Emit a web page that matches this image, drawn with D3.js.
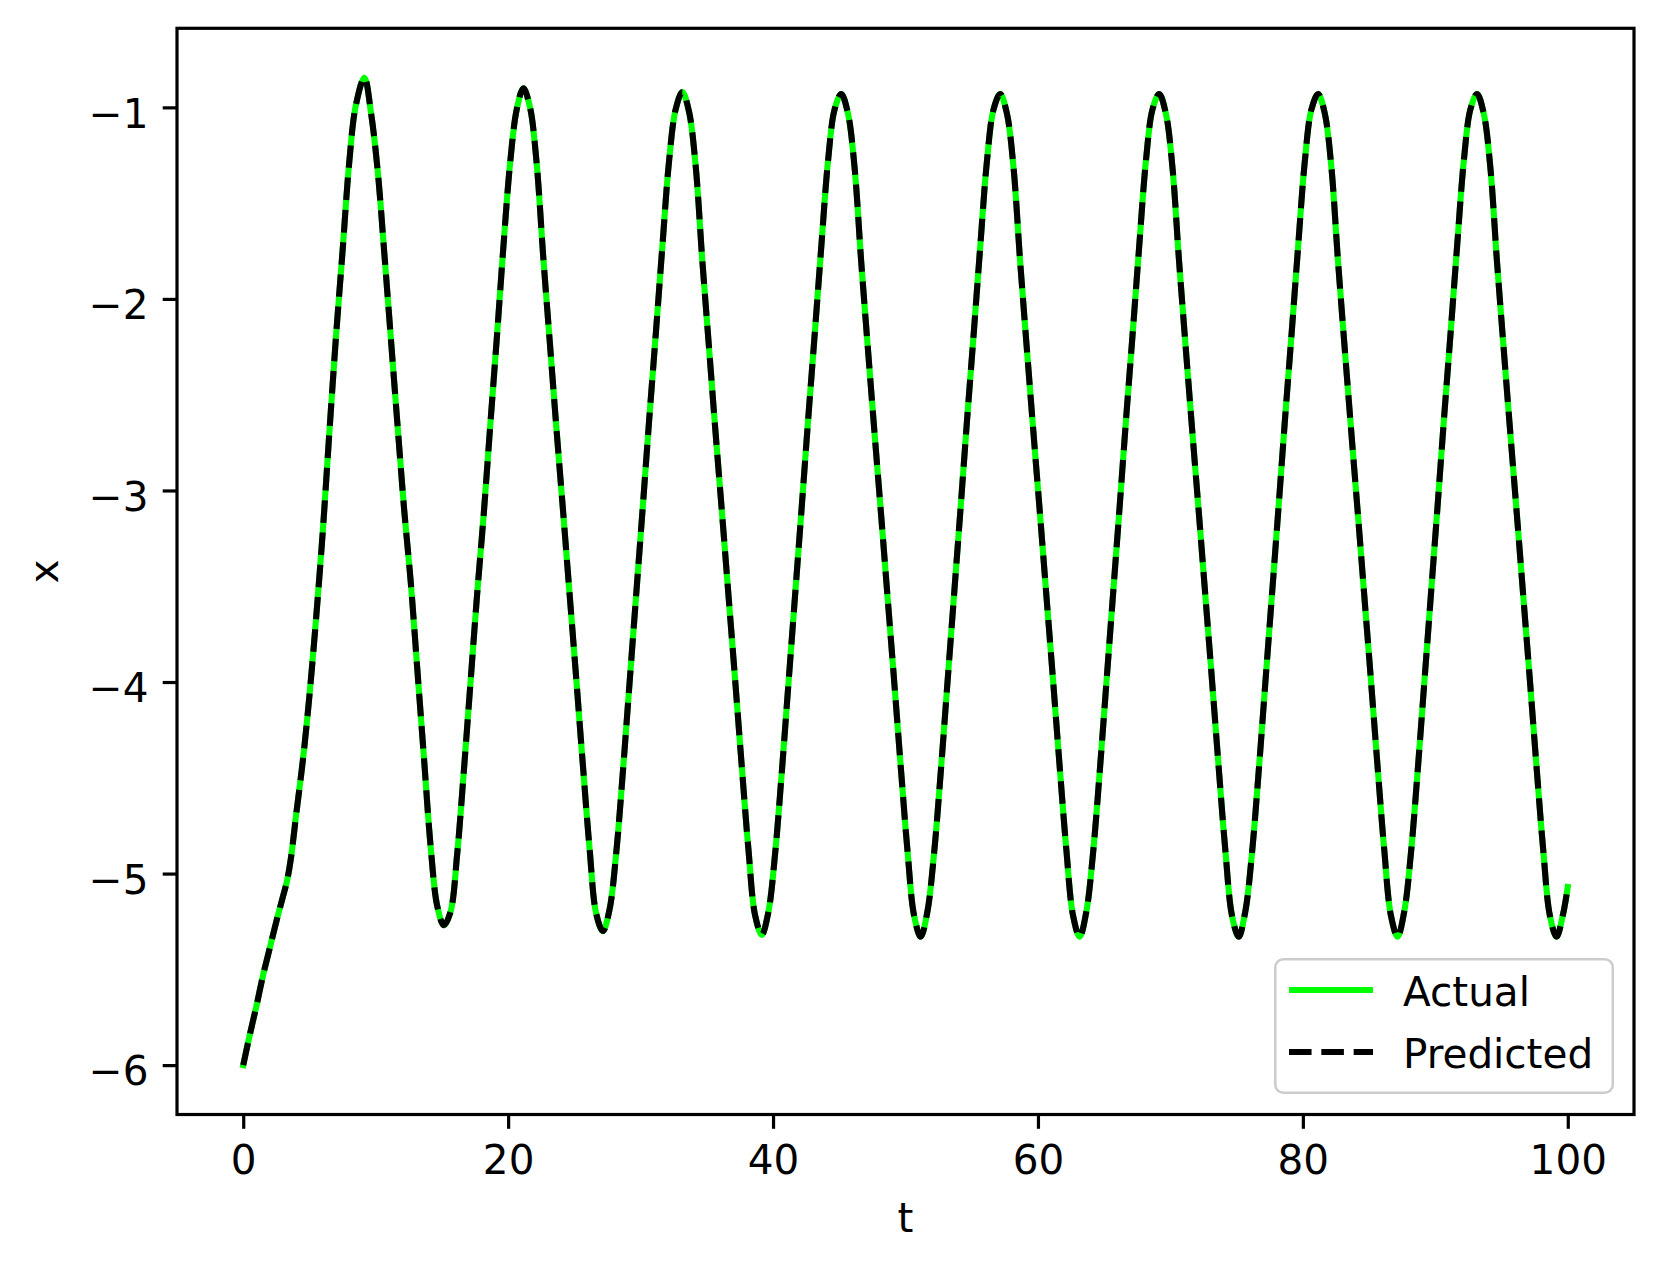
<!DOCTYPE html>
<html>
<head>
<meta charset="utf-8">
<script src="https://cdn.jsdelivr.net/npm/d3@7"></script>
<style>
  html, body { margin: 0; padding: 0; background: #fff; }
  svg { display: block; }
  text { font-family: "DejaVu Sans", sans-serif; fill: #000; }
</style>
</head>
<body>
<svg id="chart" width="1660" height="1269"></svg>
<script>
// ---- data ----
const tValues = [
  0, 0.5, 1, 1.5, 2, 2.5, 3, 3.3, 3.6, 4, 4.5, 5, 5.5, 6, 6.5, 7, 7.5, 8, 8.5, 9.15,
  9.65, 10.15, 10.65, 11.15, 11.65, 12.15, 12.65, 13.15, 13.65, 14.15, 14.65, 15.15,
  15.65, 16.15, 16.65, 17.15, 17.65, 18.15, 18.65, 19.15, 19.65, 20.15, 20.65, 21.15,
  21.65, 22.15, 22.65, 23.15, 23.65, 24.15, 24.65, 25.15, 25.65, 26.15, 26.65, 27.15,
  27.65, 28.15, 28.65, 29.15, 29.65, 30.15, 30.65, 31.15, 31.65, 32.15, 32.65, 33.15,
  33.65, 34.15, 34.65, 35.15, 35.65, 36.15, 36.65, 37.15, 37.65, 38.15, 38.65, 39.15,
  39.65, 40.15, 40.65, 41.15, 41.65, 42.15, 42.65, 43.15, 43.65, 44.15, 44.65, 45.15,
  45.65, 46.15, 46.65, 47.15, 47.65, 48.15, 48.65, 49.15, 49.65, 50.15, 50.65, 51.15,
  51.65, 52.15, 52.65, 53.15, 53.65, 54.15, 54.65, 55.15, 55.65, 56.15, 56.65, 57.15,
  57.65, 58.15, 58.65, 59.15, 59.65, 60.15, 60.65, 61.15, 61.65, 62.15, 62.65, 63.15,
  63.65, 64.15, 64.65, 65.15, 65.65, 66.15, 66.65, 67.15, 67.65, 68.15, 68.65, 69.15,
  69.65, 70.15, 70.65, 71.15, 71.65, 72.15, 72.65, 73.15, 73.65, 74.15, 74.65, 75.15,
  75.65, 76.15, 76.65, 77.15, 77.65, 78.15, 78.65, 79.15, 79.65, 80.15, 80.65, 81.15,
  81.65, 82.15, 82.65, 83.15, 83.65, 84.15, 84.65, 85.15, 85.65, 86.15, 86.65, 87.15,
  87.65, 88.15, 88.65, 89.15, 89.65, 90.15, 90.65, 91.15, 91.65, 92.15, 92.65, 93.15,
  93.65, 94.15, 94.65, 95.15, 95.65, 96.15, 96.65, 97.15, 97.65, 98.15, 98.65, 99.15,
  99.65, 100
];

const actualX = [
  -6.00, -5.84, -5.69, -5.53, -5.39, -5.25, -5.12, -5.04, -4.92, -4.69, -4.41, -4.07, -3.67, -3.22, -2.70, -2.20, -1.75, -1.29, -0.99, -0.845,
  -1.03, -1.33, -1.76, -2.21, -2.66, -3.10, -3.48, -3.94, -4.40, -4.86, -5.17, -5.27,
  -5.20, -4.90, -4.47, -4.01, -3.55, -3.13, -2.66, -2.20, -1.72, -1.29, -1.01, -0.90,
  -1.00, -1.29, -1.78, -2.23, -2.68, -3.11, -3.55, -3.99, -4.44, -4.87, -5.21, -5.30,
  -5.19, -4.90, -4.48, -4.02, -3.56, -3.10, -2.63, -2.18, -1.72, -1.28, -1.01, -0.92,
  -1.02, -1.30, -1.79, -2.24, -2.69, -3.12, -3.56, -4.00, -4.45, -4.88, -5.22, -5.32,
  -5.20, -4.90, -4.48, -4.02, -3.56, -3.10, -2.63, -2.18, -1.72, -1.28, -1.01, -0.93,
  -1.03, -1.31, -1.80, -2.25, -2.69, -3.12, -3.56, -4.00, -4.45, -4.88, -5.22, -5.33,
  -5.20, -4.90, -4.48, -4.02, -3.56, -3.10, -2.63, -2.18, -1.72, -1.28, -1.01, -0.93,
  -1.03, -1.31, -1.80, -2.25, -2.69, -3.12, -3.56, -4.00, -4.45, -4.88, -5.22, -5.33,
  -5.20, -4.90, -4.48, -4.02, -3.56, -3.10, -2.63, -2.18, -1.72, -1.28, -1.01, -0.93,
  -1.03, -1.31, -1.80, -2.25, -2.69, -3.12, -3.56, -4.00, -4.45, -4.88, -5.22, -5.33,
  -5.20, -4.90, -4.48, -4.02, -3.56, -3.10, -2.63, -2.18, -1.72, -1.28, -1.01, -0.93,
  -1.03, -1.31, -1.80, -2.25, -2.69, -3.12, -3.56, -4.00, -4.45, -4.88, -5.22, -5.33,
  -5.20, -4.90, -4.48, -4.02, -3.56, -3.10, -2.63, -2.18, -1.72, -1.28, -1.01, -0.93,
  -1.03, -1.31, -1.80, -2.25, -2.69, -3.12, -3.56, -4.00, -4.45, -4.88, -5.22, -5.33,
  -5.21, -5.07
];

// the predicted curve lies exactly on top of the actual one in the picture
const predictedX = actualX;

const xTicks = [0, 20, 40, 60, 80, 100];
const yTicks = [-6, -5, -4, -3, -2, -1];
const seriesNames = ["Actual", "Predicted"];
const xLabel = "t";
const yLabel = "x";

// ---- layout ----
const W = 1660, H = 1269;
const plot = { left: 177, right: 1634, top: 28.3, bottom: 1114.5 };
const fontPx = 40.5;
const lw = 6.1;          // 1.5pt line
const spineW = 3.2;      // 0.8pt
const tickLen = 14.3;
const tickPad = 14.3;

const svg = d3.select("#chart");
svg.append("rect").attr("width", W).attr("height", H).attr("fill", "#fff");

// matplotlib-like 5% margins
const tExt = d3.extent(tValues);
const tPad = (tExt[1] - tExt[0]) * 0.05;
const xExt = d3.extent(actualX);
const xPad = (xExt[1] - xExt[0]) * 0.05;

const xScale = d3.scaleLinear().domain([tExt[0] - tPad, tExt[1] + tPad]).range([plot.left, plot.right]);
const yScale = d3.scaleLinear().domain([xExt[0] - xPad, xExt[1] + xPad]).range([plot.bottom, plot.top]);

// clip
svg.append("defs").append("clipPath").attr("id", "clip")
  .append("rect").attr("x", plot.left).attr("y", plot.top)
  .attr("width", plot.right - plot.left).attr("height", plot.bottom - plot.top);

const line = d3.line()
  .x((d, i) => xScale(tValues[i]))
  .y(d => yScale(d))
  .curve(d3.curveCatmullRom.alpha(0.5));

const g = svg.append("g").attr("clip-path", "url(#clip)");
g.append("path").datum(actualX).attr("d", line)
  .attr("fill", "none").attr("stroke", "#00ff00").attr("stroke-width", lw)
  .attr("stroke-linejoin", "round").attr("stroke-linecap", "square");
g.append("path").datum(predictedX).attr("d", line)
  .attr("fill", "none").attr("stroke", "#000").attr("stroke-width", lw)
  .attr("stroke-dasharray", `${3.7 * lw},${1.6 * lw}`)
  .attr("stroke-linejoin", "round").attr("stroke-linecap", "butt");

// axes
const fmt = d3.format("d");
const xAxis = d3.axisBottom(xScale).tickValues(xTicks).tickFormat(fmt)
  .tickSize(tickLen).tickPadding(tickPad);
const yAxis = d3.axisLeft(yScale).tickValues(yTicks).tickFormat(fmt)
  .tickSize(tickLen).tickPadding(tickPad);

const gx = svg.append("g").attr("transform", `translate(0,${plot.bottom})`).call(xAxis);
const gy = svg.append("g").attr("transform", `translate(${plot.left},0)`).call(yAxis);
[gx, gy].forEach(ax => {
  ax.select(".domain").remove();
  ax.selectAll(".tick line").attr("stroke", "#000").attr("stroke-width", spineW);
  ax.selectAll(".tick text").attr("font-size", fontPx).attr("font-family", "DejaVu Sans").attr("fill", "#000");
});
gx.selectAll(".tick text").attr("dy", "0.76em");
gy.selectAll(".tick text").attr("dy", "0.49em");

// spines
svg.append("rect")
  .attr("x", plot.left).attr("y", plot.top)
  .attr("width", plot.right - plot.left).attr("height", plot.bottom - plot.top)
  .attr("fill", "none").attr("stroke", "#000").attr("stroke-width", spineW);

// axis labels
svg.append("text").attr("x", (plot.left + plot.right) / 2).attr("y", 1232)
  .attr("text-anchor", "middle").attr("font-size", fontPx).text(xLabel);
svg.append("text").attr("transform", `translate(58,${(plot.top + plot.bottom) / 2}) rotate(-90)`)
  .attr("text-anchor", "middle").attr("font-size", fontPx).text(yLabel);

// legend
const leg = svg.append("g");
leg.append("rect").attr("x", 1275.3).attr("y", 959.3).attr("width", 337.5).attr("height", 133.5)
  .attr("rx", 8).attr("ry", 8)
  .attr("fill", "#fff").attr("fill-opacity", 0.8)
  .attr("stroke", "#cccccc").attr("stroke-width", 2.5);
const legY = [990, 1052];
const legStyles = [
  { stroke: "#00ff00", dash: null },
  { stroke: "#000", dash: `${3.7 * lw},${1.6 * lw}` }
];
seriesNames.forEach((name, i) => {
  const l = leg.append("line").attr("x1", 1289).attr("x2", 1373)
    .attr("y1", legY[i]).attr("y2", legY[i])
    .attr("stroke", legStyles[i].stroke).attr("stroke-width", lw);
  if (legStyles[i].dash) l.attr("stroke-dasharray", legStyles[i].dash);
  leg.append("text").attr("x", 1403).attr("y", legY[i] + 16)
    .attr("font-size", fontPx).text(name);
});
</script>
</body>
</html>
